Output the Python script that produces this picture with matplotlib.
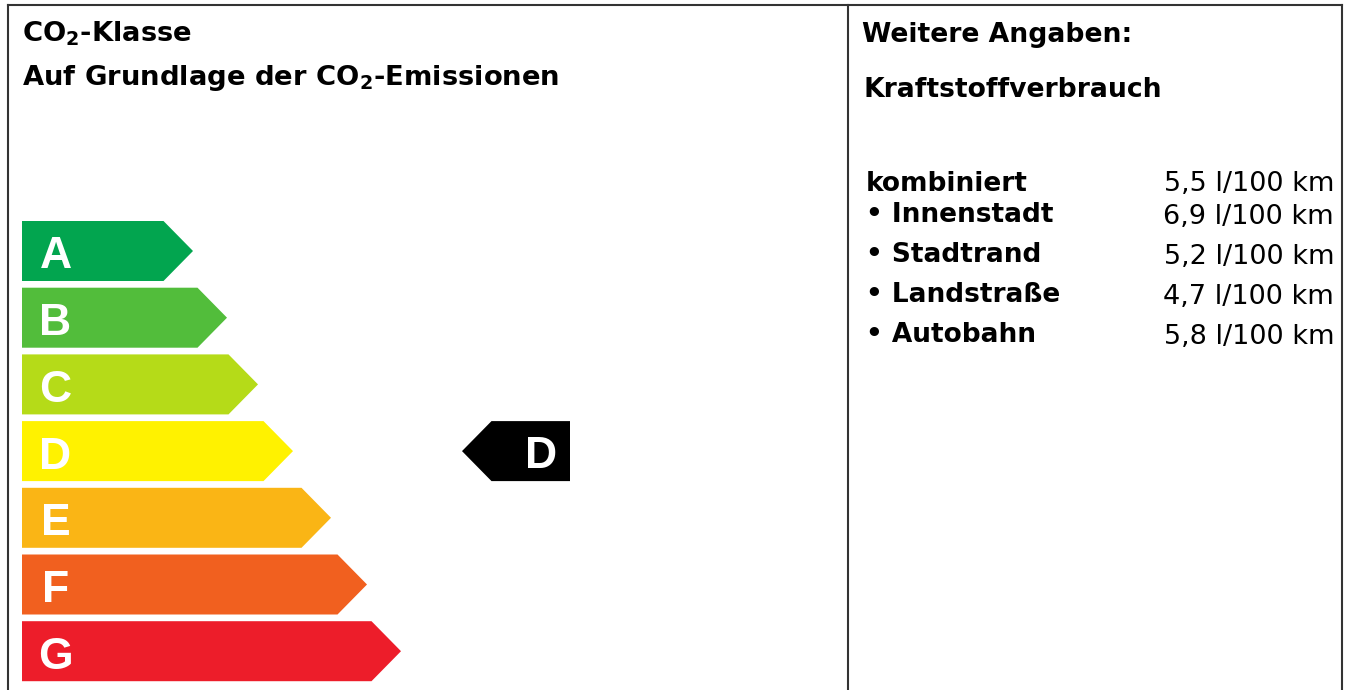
import matplotlib
matplotlib.use('Agg')
import matplotlib.pyplot as plt
from matplotlib.patches import Polygon

plt.rcParams['font.family'] = ['DejaVu Sans']
plt.rcParams['mathtext.fontset'] = 'custom'
plt.rcParams['mathtext.rm'] = 'DejaVu Sans:bold'
plt.rcParams['mathtext.bf'] = 'DejaVu Sans:bold'

classes = ['A', 'B', 'C', 'D', 'E', 'F', 'G']
class_tips = [193, 227, 258, 293, 331, 367, 401]
class_colors = ['#02a54f', '#52bd3b', '#b5db18', '#fff200', '#fab515', '#f1601f', '#ed1d2a']
vehicle_class = 'D'

# fuel consumption, l/100 km
fuel_labels = ['kombiniert', 'Innenstadt', 'Stadtrand', 'Landstraße', 'Autobahn']
fuel_values = [5.5, 6.9, 5.2, 4.7, 5.8]

W, H = 1350, 690
fig = plt.figure(figsize=(W / 100, H / 100), dpi=100)
ax = fig.add_axes([0, 0, 1, 1])
ax.set_xlim(0, W)
ax.set_ylim(H, 0)
ax.axis('off')

# frame
fc = '#333333'
ax.plot([8, 1342], [5, 5], color=fc, lw=1.5)
for x in (8, 848, 1342):
    ax.plot([x, x], [5, 700], color=fc, lw=1.5)

# left panel titles
ax.text(22, 41, r'CO$_2$-Klasse', fontsize=19.7, fontweight='bold', va='baseline')
ax.text(22, 85, r'Auf Grundlage der CO$_2$-Emissionen', fontsize=19.7, fontweight='bold', va='baseline')

# class arrows
lf = 'Liberation Sans'
x0, bh, depth = 22, 60, 29.5
for i, (c, tip, col) in enumerate(zip(classes, class_tips, class_colors)):
    top = 221 + i * 66.7
    mid, bot = top + bh / 2, top + bh
    ax.add_patch(Polygon([(x0, top), (tip - depth, top), (tip, mid), (tip - depth, bot), (x0, bot)],
                         closed=True, facecolor=col, edgecolor='none'))
    ax.text(55.5, top + 47.5, c, color='white', fontsize=32, fontweight='bold', family=lf,
            ha='center', va='baseline')
    if c == vehicle_class:
        mx_tip, mx_right = 462, 570
        ax.add_patch(Polygon([(mx_tip, mid), (mx_tip + depth, top), (mx_right, top),
                              (mx_right, bot), (mx_tip + depth, bot)],
                             closed=True, facecolor='black', edgecolor='none'))
        ax.text(541, top + 47, c, color='white', fontsize=32, fontweight='bold', family=lf,
                ha='center', va='baseline')

# right panel
ax.text(862, 42, 'Weitere Angaben:', fontsize=19.2, fontweight='bold', va='baseline')
ax.text(863, 97, 'Kraftstoffverbrauch', fontsize=19.2, fontweight='bold', va='baseline')

row_y = [191, 222, 262, 302, 342]
for i, (lab, v, y) in enumerate(zip(fuel_labels, fuel_values, row_y)):
    txt = lab if i == 0 else '• ' + lab
    ax.text(866, y, txt, fontsize=19, fontweight='bold', va='baseline')
    val = f'{v:.1f}'.replace('.', ',') + ' l/100 km'
    ax.text(1334, y + (2 if i > 0 else 0), val, fontsize=19.5, ha='right', va='baseline')

fig.savefig('out.png', dpi=100)
